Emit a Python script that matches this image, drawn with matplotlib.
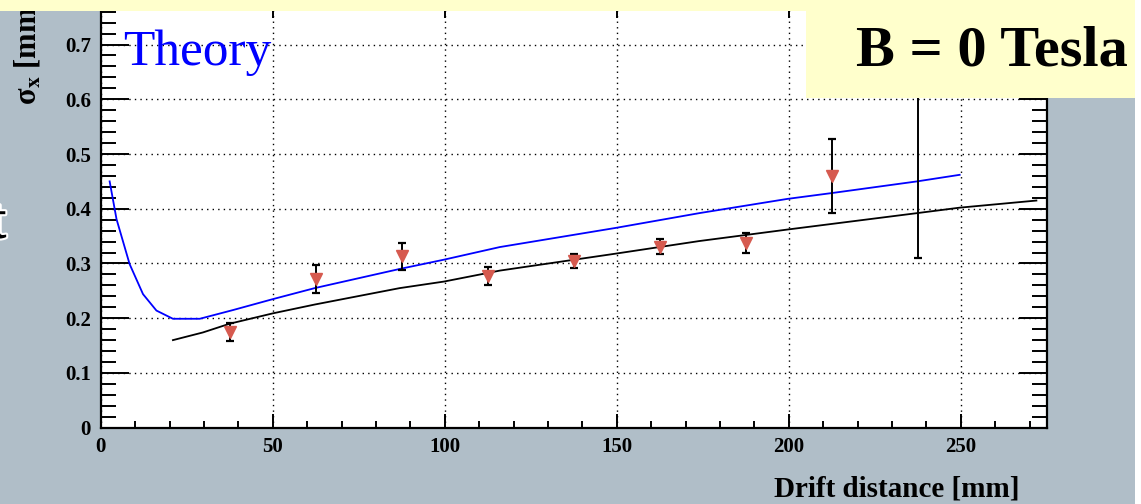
import matplotlib
matplotlib.use('Agg')
import matplotlib.pyplot as plt
from matplotlib.patches import Rectangle
import matplotlib.patheffects as pe
import numpy as np

plt.rcParams['font.family'] = ['Liberation Serif', 'DejaVu Serif']
plt.rcParams['mathtext.fontset'] = 'stix'

# measured resolution vs drift distance
drift = [37.5, 62.5, 87.5, 112.5, 137.5, 162.5, 187.5, 212.5, 237.5]
sigma = [0.175, 0.272, 0.313, 0.277, 0.305, 0.331, 0.338, 0.460, 0.650]
sigma_err = [0.017, 0.025, 0.024, 0.017, 0.013, 0.013, 0.018, 0.068, 0.340]

# theory curve (blue)
th_x = [2.6, 4.6, 8.4, 12.3, 16.2, 21.0, 28.8, 38.5, 50.1, 62.2, 86.9,
        99.8, 116.0, 149.7, 174.0, 199.6, 212.9, 237.3, 249.7]
th_y = [0.450, 0.381, 0.299, 0.244, 0.214, 0.199, 0.199, 0.215, 0.235, 0.255, 0.290,
        0.307, 0.330, 0.365, 0.392, 0.418, 0.429, 0.450, 0.462]

# fitted curve (black)
fit_x = [21.0, 29.7, 37.5, 50.1, 62.2, 86.9, 99.8, 116.0, 149.7, 174.0,
         199.6, 237.3, 249.7, 272.0]
fit_y = [0.160, 0.174, 0.190, 0.209, 0.225, 0.255, 0.267, 0.287, 0.318, 0.341,
         0.362, 0.392, 0.402, 0.415]

bg = '#b0bec8'
yellow = '#ffffcc'
W, H = 1141, 504

fig = plt.figure(figsize=(W / 100, H / 100), dpi=100, facecolor=bg)
ax = fig.add_axes([100.7 / W, (H - 427.7) / H, (1046.7 - 100.7) / W, (427.7 - 3.5) / H])
ax.set_facecolor('white')

ax.plot(th_x, th_y, color='#0000ff', lw=1.3, zorder=3)
ax.plot(fit_x, fit_y, color='black', lw=1.3, zorder=3)
ax.errorbar(drift, sigma, yerr=sigma_err, fmt='none', ecolor='black',
            elinewidth=1.4, capsize=3, capthick=1.6, zorder=4)
ax.plot(drift, sigma, 'v', color='#d65a4f', ms=8, mec='#d65a4f', zorder=5)

ax.set_xlim(0, 275)
ax.set_ylim(0, 0.775)
ax.set_xticks([0, 50, 100, 150, 200, 250])
ax.set_xticks(np.arange(0, 276, 10), minor=True)
ax.set_yticks([0, 0.1, 0.2, 0.3, 0.4, 0.5, 0.6, 0.7])
ax.set_yticks(np.arange(0, 0.775, 0.02), minor=True)
ax.set_yticklabels(['0', '0.1', '0.2', '0.3', '0.4', '0.5', '0.6', '0.7'])

ax.grid(True, which='major', color='black', linestyle=(0, (1, 3)), lw=1.0)
for s in ax.spines.values():
    s.set_linewidth(1.6)

ax.tick_params(which='both', direction='in', top=True, right=True,
               width=1.4, labelsize=15, pad=7)
ax.tick_params(axis='x', which='major', length=10)
ax.tick_params(axis='x', which='minor', length=5)
ax.tick_params(axis='y', which='major', length=20)
ax.tick_params(axis='y', which='minor', length=11)
for lab in ax.get_xticklabels() + ax.get_yticklabels():
    lab.set_fontweight('bold')

fig.text(1020 / W, (H - 497) / H, 'Drift distance [mm]', ha='right', va='baseline',
         fontsize=21, fontweight='bold')
fig.text(28 / W, (H - 105) / H, r'σ$_{\mathbf{x}}$ [mm]', rotation=90, ha='center',
         va='bottom', fontsize=22, fontweight='bold')

# slide decorations over the plot
fig.add_artist(Rectangle((0, (H - 11) / H), 1135 / W, 11 / H, transform=fig.transFigure,
                         facecolor=yellow, edgecolor='none', zorder=10))
fig.add_artist(Rectangle((806 / W, (H - 97.7) / H), (1135 - 806) / W, 86.7 / H,
                         transform=fig.transFigure, facecolor=yellow, edgecolor='none',
                         zorder=10))
fig.add_artist(Rectangle((1135 / W, 0), 6 / W, 1, transform=fig.transFigure,
                         facecolor='white', edgecolor='none', zorder=10))
fig.text(1128 / W, (H - 65) / H, 'B = 0 Tesla', ha='right', va='baseline',
         fontsize=42, fontweight='bold', zorder=11)
fig.text(123 / W, (H - 65) / H, 'Theory', ha='left', va='baseline',
         fontsize=37, color='#0000ff', zorder=11)
fig.text(-13 / W, (H - 238) / H, 't', ha='left', va='baseline', fontsize=42,
         fontweight='bold', zorder=11,
         path_effects=[pe.withStroke(linewidth=3, foreground='white')])

fig.savefig('out.png', dpi=100, facecolor=bg)
